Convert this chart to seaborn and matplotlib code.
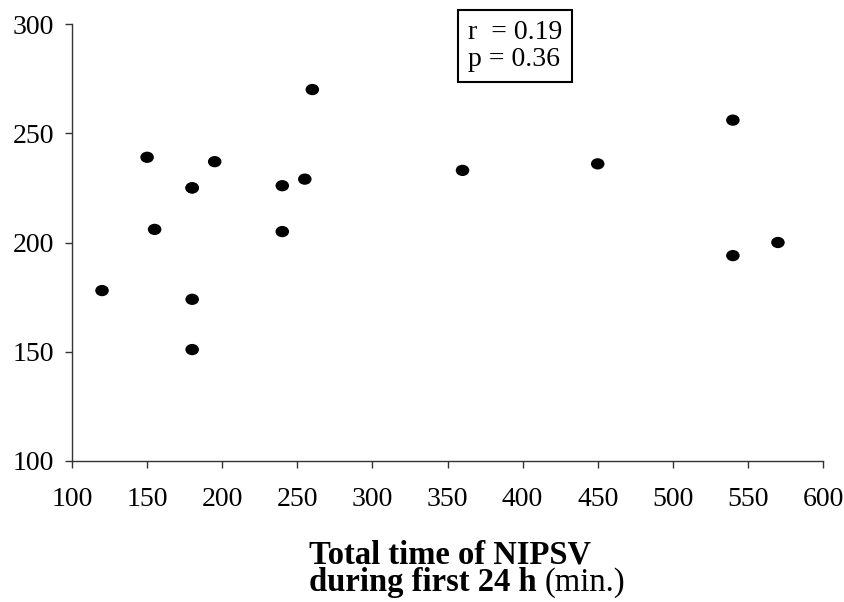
import seaborn as sns
import matplotlib
matplotlib.use("Agg")
import matplotlib.pyplot as plt
from matplotlib.path import Path
from matplotlib.transforms import Affine2D
import pandas as pd

# values
nipsv_minutes = [120, 150, 155, 180, 180, 180, 180, 195, 240, 240, 255, 260,
                 360, 450, 540, 540, 570]
y_values = [178, 239, 206, 225, 174, 151, 225, 237, 226, 205, 229, 270,
            233, 236, 256, 194, 200]
x_ticks = [100, 150, 200, 250, 300, 350, 400, 450, 500, 550, 600]
y_ticks = [100, 150, 200, 250, 300]
stats_text = "r  = 0.19\np = 0.36"

df = pd.DataFrame({"x": nipsv_minutes, "y": y_values})

sns.set_theme(style="white")
plt.rcParams["font.family"] = ["Liberation Serif", "DejaVu Serif"]
plt.rcParams["text.color"] = "black"

fig = plt.figure(figsize=(8.44, 6.02), dpi=100)
ax = fig.add_axes([72 / 844, 1 - 461 / 602, (823 - 72) / 844, (461 - 24) / 602])

# slightly flattened dot, like the scanned markers
ellipse = Path.unit_circle().transformed(Affine2D().scale(1.2, 1.0))
sns.scatterplot(data=df, x="x", y="y", ax=ax, marker=ellipse, s=95,
                color="black", edgecolor="none", legend=False)

ax.set_xlim(100, 600)
ax.set_ylim(100, 300)
ax.set_xticks(x_ticks)
ax.set_yticks(y_ticks)
ax.set_xlabel("")
ax.set_ylabel("")
for side in ["top", "right"]:
    ax.spines[side].set_visible(False)
for side in ["left", "bottom"]:
    ax.spines[side].set_color("#333333")
    ax.spines[side].set_linewidth(1.0)
ax.tick_params(axis="both", direction="out", length=5, width=1,
               color="#333333", labelsize=20, labelcolor="black")
ax.tick_params(axis="x", pad=14, bottom=True)
ax.tick_params(axis="y", pad=8, left=True)

fig.text(515 / 844, 1 - 46 / 602, stats_text, ha="center", va="center",
         fontsize=20, multialignment="left", linespacing=1.15,
         bbox=dict(boxstyle="square,pad=0.35", fc="white", ec="black", lw=1.5))

# x-axis title: bold part plus normal "(min.)"
x0 = 309 / 844
fig.text(x0, 1 - 563 / 602, "Total time of NIPSV", fontsize=23.5,
         fontweight="bold", ha="left", va="baseline")
t2 = fig.text(x0, 1 - 591 / 602, "during first 24 h", fontsize=23.5,
              fontweight="bold", ha="left", va="baseline")
fig.canvas.draw()
bb = t2.get_window_extent(renderer=fig.canvas.get_renderer())
fig.text((bb.x1 + 8) / 844, 1 - 591 / 602, "(min.)", fontsize=23.5,
         ha="left", va="baseline")

fig.savefig("out.png", dpi=100)
